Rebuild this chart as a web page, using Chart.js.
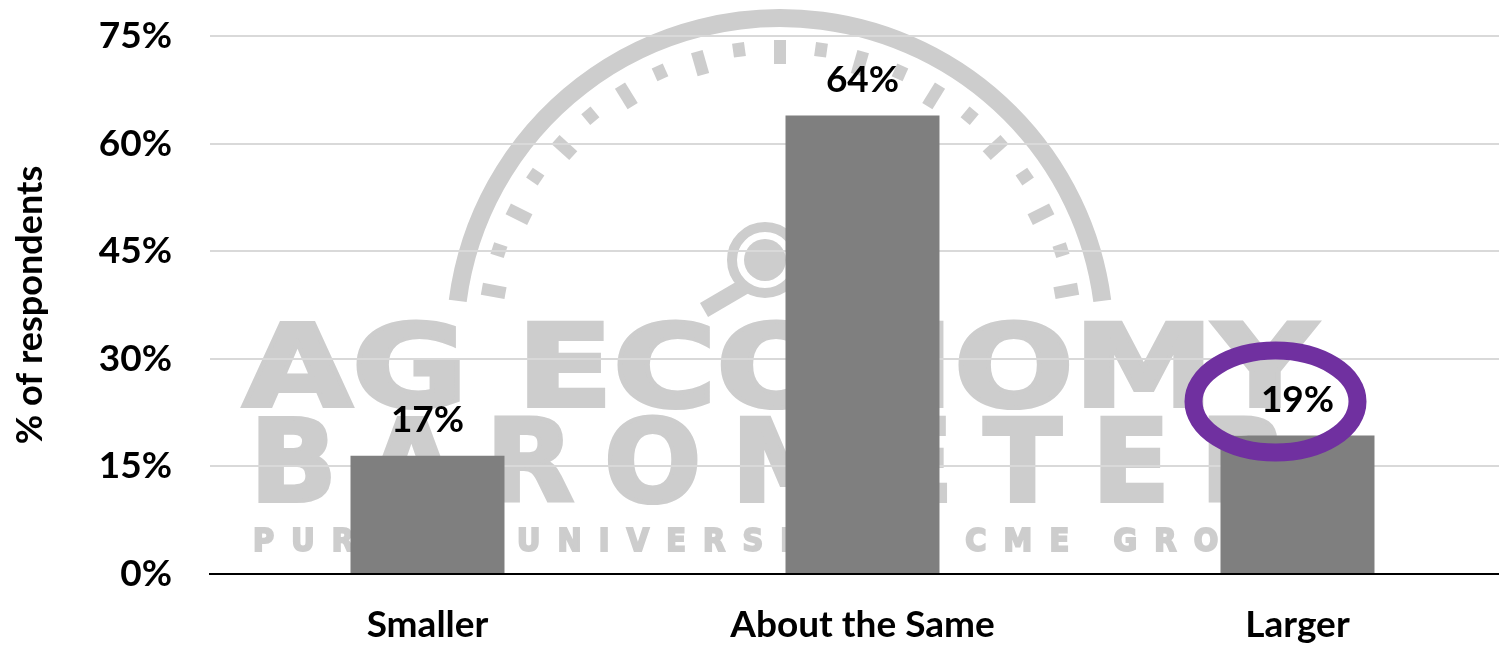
<!DOCTYPE html>
<html lang="en">
<head>
  <meta charset="UTF-8">
  <title>% of respondents: Smaller / About the Same / Larger</title>
  <script src="https://cdn.jsdelivr.net/npm/chart.js"></script>
  <style>
    html, body { margin: 0; padding: 0; background: #ffffff; overflow: hidden; }
    #wrap { width: 1516px; height: 645px; }
    canvas { display: block; }
  </style>
</head>
<body>
  <div id="wrap"><canvas id="barChart" width="1516" height="645"></canvas></div>

  <script>
    const categories = ['Smaller', 'About the Same', 'Larger'];
    const shares = [16.5, 63.9, 19.3];
    const yTicks = [0, 15, 30, 45, 60, 75];
    const highlighted = 'Larger';

    const FONT = 'Lato';
    const WM = '#cdcdcd';

    // spread a line of text so it runs from x0 to x1
    function spaced(ctx, text, x0, base, x1, weight) {
      ctx.letterSpacing = '0px';
      const w = ctx.measureText(text).width;
      ctx.letterSpacing = ((x1 - x0 - w) / (text.length - 1)) + 'px';
      ctx.fillText(text, x0, base);
      ctx.lineWidth = weight;
      ctx.strokeText(text, x0, base);
      ctx.letterSpacing = '0px';
    }

    // stretch a line of text horizontally from x0 to x1
    function stretched(ctx, text, x0, base, x1, weight) {
      const w = ctx.measureText(text).width;
      ctx.save();
      ctx.translate(x0, base);
      ctx.scale((x1 - x0) / w, 1);
      ctx.fillText(text, 0, 0);
      ctx.lineWidth = weight;
      ctx.strokeText(text, 0, 0);
      ctx.restore();
    }

    // faded "Ag Economy Barometer" logo behind the plot
    const watermark = {
      id: 'watermark',
      beforeDraw(chart) {
        const ctx = chart.ctx;
        ctx.save();
        ctx.fillStyle = WM;
        ctx.strokeStyle = WM;
        ctx.lineJoin = 'miter';

        const cx = 780, cy = 343;
        ctx.lineWidth = 18;
        ctx.beginPath();
        ctx.arc(cx, cy, 325, Math.PI + 0.13, 2 * Math.PI - 0.13);
        ctx.stroke();

        ctx.lineWidth = 12;
        const n = 20;
        for (let i = 0; i <= n; i++) {
          const a = Math.PI + 0.18 + i * (Math.PI - 0.36) / n;
          const len = i % 2 ? 14 : 24;
          ctx.beginPath();
          ctx.moveTo(cx + Math.cos(a) * 303, cy + Math.sin(a) * 303);
          ctx.lineTo(cx + Math.cos(a) * (303 - len), cy + Math.sin(a) * (303 - len));
          ctx.stroke();
        }

        // magnifying glass
        ctx.lineWidth = 10;
        ctx.beginPath();
        ctx.arc(765, 260, 33, 0, 2 * Math.PI);
        ctx.stroke();
        ctx.beginPath();
        ctx.arc(765, 260, 21, 0, 2 * Math.PI);
        ctx.fill();
        ctx.lineWidth = 16;
        ctx.beginPath();
        ctx.moveTo(745, 286);
        ctx.lineTo(704, 310);
        ctx.stroke();

        ctx.textAlign = 'left';
        ctx.textBaseline = 'alphabetic';
        ctx.font = 'bold 114px "DejaVu Sans"';
        stretched(ctx, 'AG ECONOMY', 243, 406, 1316, 4);
        spaced(ctx, 'BAROMETER', 250, 501, 1288, 4);
        ctx.font = 'bold 32px "DejaVu Sans Condensed", "DejaVu Sans"';
        spaced(ctx, 'PURDUE UNIVERSITY | CME GROUP', 253, 551, 1297, 2);
        ctx.restore();
      }
    };

    // value labels + the purple ring on the highlighted bar
    const barLabels = {
      id: 'barLabels',
      afterDatasetsDraw(chart) {
        const ctx = chart.ctx;
        const meta = chart.getDatasetMeta(0);
        ctx.save();
        ctx.font = `bold 37px ${FONT}`;
        ctx.fillStyle = '#000000';
        ctx.textAlign = 'center';
        ctx.textBaseline = 'alphabetic';
        meta.data.forEach((bar, i) => {
          ctx.fillText(Math.round(shares[i]) + '%', bar.x, bar.y - 24);
          if (categories[i] === highlighted) {
            ctx.strokeStyle = '#7030a0';
            ctx.lineWidth = 18;
            ctx.beginPath();
            ctx.ellipse(bar.x - 22, bar.y - 34, 82, 51, 0, 0, 2 * Math.PI);
            ctx.stroke();
          }
        });
        ctx.restore();
      }
    };

    const tickFont = { family: FONT, weight: 'bold', size: 37 };

    new Chart(document.getElementById('barChart').getContext('2d'), {
      type: 'bar',
      data: {
        labels: categories,
        datasets: [{
          data: shares,
          backgroundColor: '#7f7f7f',
          borderWidth: 0,
          categoryPercentage: 0.354,
          barPercentage: 1
        }]
      },
      options: {
        responsive: false,
        animation: false,
        layout: { padding: { top: 36, right: 1, left: 0, bottom: 0 } },
        plugins: { legend: { display: false }, tooltip: { enabled: false } },
        scales: {
          x: {
            grid: { display: false, drawTicks: false },
            border: { display: true, color: '#000000', width: 2 },
            ticks: { color: '#000000', font: tickFont, padding: 29 },
            afterFit: s => { s.height = 71; s.paddingTop = 0; s.paddingBottom = 0; }
          },
          y: {
            min: 0,
            max: 75,
            afterBuildTicks: s => { s.ticks = yTicks.map(v => ({ value: v })); },
            grid: { color: '#d9d9d9', lineWidth: 2, drawTicks: false },
            border: { display: false },
            ticks: { color: '#000000', font: tickFont, padding: 38, callback: v => v + '%' },
            title: {
              display: true,
              text: '% of respondents',
              color: '#000000',
              font: { family: FONT, weight: 'bold', size: 36 },
              padding: { top: 9, bottom: 0 }
            },
            afterFit: s => { s.width = 210; s.paddingTop = 0; s.paddingBottom = 0; }
          }
        }
      },
      plugins: [watermark, barLabels]
    });
  </script>
</body>
</html>
